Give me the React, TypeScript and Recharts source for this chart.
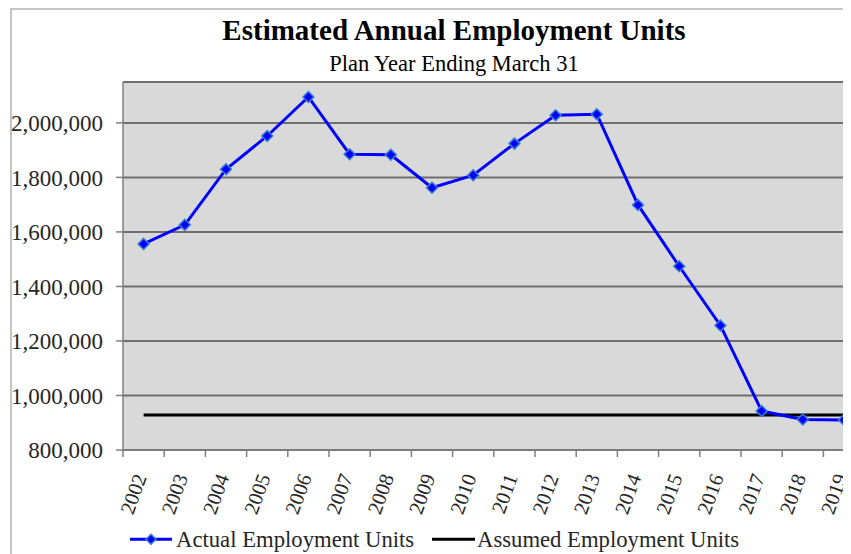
import React from 'react';
import { LineChart, Line, XAxis, YAxis, CartesianGrid, Legend } from 'recharts';

const years = ['2002', '2003', '2004', '2005', '2006', '2007', '2008', '2009', '2010', '2011', '2012', '2013', '2014', '2015', '2016', '2017', '2018', '2019'];
const actualUnits = [1556000, 1626000, 1830000, 1952000, 2095000, 1885000, 1883000, 1762000, 1808000, 1924000, 2028000, 2032000, 1699000, 1474000, 1257000, 943000, 912000, 910000];
const assumedUnits = [928000, 928000, 928000, 928000, 928000, 928000, 928000, 928000, 928000, 928000, 928000, 928000, 928000, 928000, 928000, 928000, 928000, 928000];
const yTicks = [800000, 1000000, 1200000, 1400000, 1600000, 1800000, 2000000];

const title = 'Estimated Annual Employment Units';
const subtitle = 'Plan Year Ending March 31';
const actualName = 'Actual Employment Units';
const assumedName = 'Assumed Employment Units';

const data = years.map((y, i) => ({ year: y, actual: actualUnits[i], assumed: assumedUnits[i] }));

const FONT = "'Liberation Serif', 'Times New Roman', serif";
const CHART_W = 880;
const CHART_H = 546;
const MARGIN = { top: 74, right: 23.4, left: 0, bottom: 0 };
const Y_W = 115;
const BW = (CHART_W - MARGIN.right - Y_W) / years.length;

const fmt = (v: number) => v.toLocaleString('en-US');

const XTick = (props: any) => {
  const { x, y, payload, index } = props;
  const last = index === years.length - 1;
  const tx = x + 3.5;
  const ty = y + 27;
  return (
    <g>
      <line x1={x - BW / 2} x2={x - BW / 2} y1={y} y2={y + 7} stroke="#7f7f7f" strokeWidth={1.5} />
      {last && <line x1={x + BW / 2} x2={x + BW / 2} y1={y} y2={y + 7} stroke="#7f7f7f" strokeWidth={1.5} />}
      <text
        x={tx}
        y={ty}
        transform={`rotate(-70, ${tx}, ${ty})`}
        textAnchor="end"
        fontFamily={FONT}
        fontSize={20.5}
        fill="#262626"
      >
        {payload.value}
      </text>
    </g>
  );
};

const Diamond = (props: any) => {
  const { cx, cy, index } = props;
  if (cx == null || cy == null) return <g key={index} />;
  const r = 5.5;
  return (
    <polygon
      key={index}
      points={`${cx},${cy - r} ${cx + r},${cy} ${cx},${cy + r} ${cx - r},${cy}`}
      fill="#0000ff"
      stroke="#3b7fd4"
      strokeWidth={1.5}
    />
  );
};

const LegendContent = () => (
  <svg width={CHART_W} height={30} style={{ display: 'block' }}>
    <line x1={122} x2={164} y1={15.3} y2={15.3} stroke="#0000ff" strokeWidth={3} />
    <polygon points="143,10.3 148,15.3 143,20.3 138,15.3" fill="#0000ff" stroke="#3b7fd4" strokeWidth={1.5} />
    <text x={168} y={23} fontFamily={FONT} fontSize={22.7} fill="#262626">{actualName}</text>
    <line x1={424} x2={467} y1={15.3} y2={15.3} stroke="#000000" strokeWidth={3} />
    <text x={469} y={23} fontFamily={FONT} fontSize={22.7} fill="#262626">{assumedName}</text>
  </svg>
);

export default function App() {
  return (
    <div style={{ position: 'relative', width: 843, height: CHART_H, overflow: 'hidden', background: '#fff' }}>
      <div
        style={{
          position: 'absolute', left: 2, top: 0, width: 1000, height: 1000,
          borderLeft: '2px solid #c4c4c4', borderTop: '2px solid #c4c4c4',
        }}
      />
      <div
        style={{
          position: 'absolute', left: 0, top: 7.7, width: 892, textAlign: 'center',
          fontFamily: FONT, fontWeight: 'bold', fontSize: 29, lineHeight: 1, color: '#000',
          whiteSpace: 'nowrap', zIndex: 2,
        }}
      >
        {title}
      </div>
      <div
        style={{
          position: 'absolute', left: 0, top: 45.2, width: 892, textAlign: 'center',
          fontFamily: FONT, fontSize: 22.5, lineHeight: 1, color: '#000',
          whiteSpace: 'nowrap', zIndex: 2,
        }}
      >
        {subtitle}
      </div>
      <div style={{ position: 'absolute', left: 0, top: 0 }}>
        <LineChart width={CHART_W} height={CHART_H} data={data} margin={MARGIN}>
          <CartesianGrid vertical={false} fill="#d9d9d9" stroke="#6f6f6f" strokeWidth={2} />
          <XAxis
            dataKey="year"
            type="category"
            scale="band"
            axisLine={{ stroke: '#7f7f7f', strokeWidth: 1.5 }}
            tickLine={false}
            tickSize={0}
            tickMargin={0}
            height={74}
            interval={0}
            tick={<XTick />}
          />
          <YAxis
            type="number"
            domain={[800000, 2150000]}
            ticks={yTicks}
            width={Y_W}
            tickFormatter={fmt}
            axisLine={{ stroke: '#7f7f7f', strokeWidth: 1.5 }}
            tickLine={{ stroke: '#7f7f7f', strokeWidth: 1.5 }}
            tickSize={7}
            tickMargin={13}
            tick={{ fontFamily: FONT, fontSize: 23, fill: '#262626' }}
            interval={0}
          />
          <Legend
            verticalAlign="bottom"
            height={30}
            wrapperStyle={{ left: 0, bottom: 0, width: CHART_W }}
            content={() => <LegendContent />}
          />
          <Line
            name={assumedName}
            dataKey="assumed"
            stroke="#000000"
            strokeWidth={3}
            dot={false}
            activeDot={false}
            isAnimationActive={false}
          />
          <Line
            name={actualName}
            dataKey="actual"
            stroke="#0000ff"
            strokeWidth={3}
            dot={<Diamond />}
            activeDot={false}
            isAnimationActive={false}
          />
        </LineChart>
      </div>
    </div>
  );
}
